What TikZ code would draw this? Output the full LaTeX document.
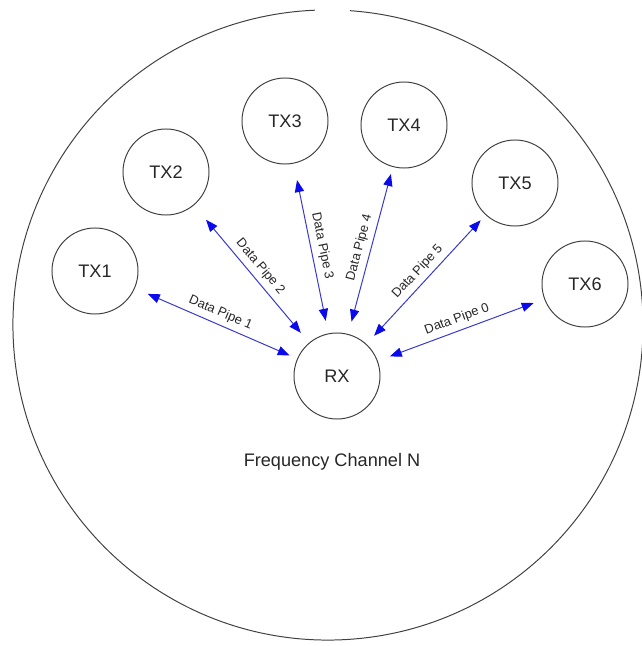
\documentclass[tikz,border=0pt]{standalone}
\usepackage{fontspec}
\setmainfont{Liberation Sans}
\usetikzlibrary{arrows.meta,positioning}
\definecolor{pipeline}{RGB}{55,55,205}
\definecolor{pipetip}{RGB}{10,10,235}

\begin{document}
\begin{tikzpicture}[x=0.025cm,y=0.025cm,
				>={Triangle[length=3mm,width=2.3mm,color=pipetip]},
				station/.style={circle, draw=black!75, line width=0.7pt, minimum size=2.15cm, inner sep=0pt, text=black!85, font=\fontsize{12.9}{15}\selectfont}
				,pipe/.style={<->, draw=pipeline, line width=0.7pt}
				,pipelabel/.style={midway, above=3.5pt, sloped, inner sep=0pt, text=black!85, font=\fontsize{9.2}{11}\selectfont}
				]
				\useasboundingbox (0,0) rectangle (641,646);
				
				\draw[black!75, line width=0.7pt] (328,321) ++(92.4:7.875cm) arc[start angle=92.4, end angle=446, radius=7.875cm];
				
				\node[station] (tx1) at (95,375) {TX1};
				\node[station] (tx2) at (166,474) {TX2};
				\node[station] (tx3) at (285,525) {TX3};
				\node[station] (tx4) at (404,521) {TX4};
				\node[station] (tx5) at (515,463) {TX5};
				\node[station] (tx6) at (585,362) {TX6};
				\node[station] (rx) at (337,270) {RX};
				\node[text=black!85, font=\fontsize{12.9}{15}\selectfont] (chan) at (332,184) {Frequency Channel N};
				
				\draw[pipe, shorten <=3.5mm, shorten >=2mm] (tx1) -- (rx) node[pipelabel] {Data Pipe 1};
				\draw[pipe, shorten <=4.7mm, shorten >=3.2mm] (tx2) -- (rx) node[pipelabel] {Data Pipe 2};
				\draw[pipe, shorten <=4.2mm, shorten >=3.2mm] (tx3) -- (rx) node[pipelabel] {Data Pipe 3};
				\draw[pipe, shorten <=1.8mm, shorten >=3.2mm] (tx4) -- (rx) node[pipelabel] {Data Pipe 4};
				\draw[pipe, shorten <=1.8mm, shorten >=2.8mm] (tx5) -- (rx) node[pipelabel] {Data Pipe 5};
				\draw[pipe, shorten <=2.8mm, shorten >=3.2mm] (tx6) -- (rx) node[pipelabel] {Data Pipe 0};
			\end{tikzpicture}
\end{document}
